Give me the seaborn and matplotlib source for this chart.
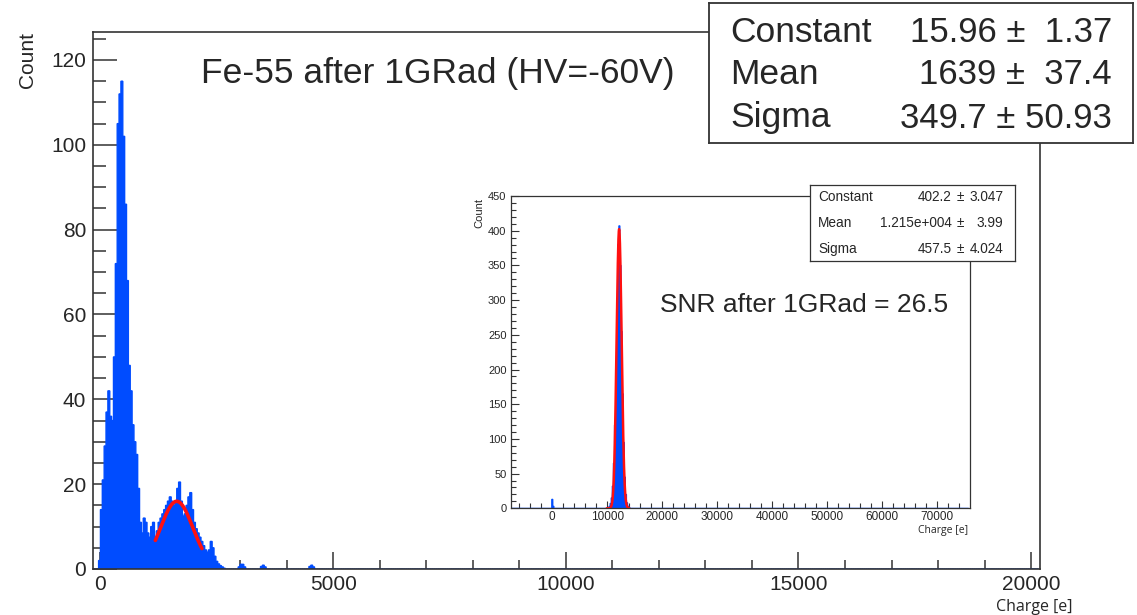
import numpy as np
import pandas as pd
import matplotlib
matplotlib.use("Agg")
import matplotlib.pyplot as plt
from matplotlib.ticker import MultipleLocator
import seaborn as sns

# ---------------- data ----------------
# main histogram: Fe-55 after 1 GRad, bin centres [e] (40 e bins) and counts
main_centers = [-20, 20, 60, 100, 140, 180, 220, 260, 300, 340, 380, 420, 460, 500,
                540, 580, 620, 660, 700, 740, 780, 820, 860, 900, 940, 980, 1020,
                1060, 1100, 1140, 1180, 1220, 1260, 1300, 1340, 1380, 1420, 1460,
                1500, 1540, 1580, 1620, 1660, 1700, 1740, 1780, 1820, 1860, 1900,
                1940, 1980, 2020, 2060, 2100, 2140, 2180, 2220, 2260, 2300, 2340,
                2380, 2420, 2460, 2500, 2540, 2580, 2620, 2660,
                2980, 3020, 3060, 3100, 3460, 3500, 3540, 4500, 4540, 4580]
main_counts = [2, 14, 21, 29, 37, 42, 36, 35, 50, 72, 105, 112, 115, 102,
               86, 68, 48, 42, 34, 30, 27, 19, 11, 8.5, 12, 11, 8.5,
               7.5, 10, 11, 7.5, 9, 11, 12, 13, 14, 15, 16,
               17, 16, 15, 16, 19, 20.5, 16, 12.5, 13, 15, 17,
               18, 14, 11, 9.5, 8.5, 7.5, 6.5, 5.5, 4.5, 4, 4.5,
               6.5, 5, 3, 1.8, 1.2, 0.8, 0.5, 0.2,
               0.5, 1.1, 1.1, 0.5, 0.6, 0.9, 0.5, 0.6, 0.9, 0.5]

# inset histogram: bin centres [e] (200 e bins) and counts
inset_centers = [0, 200, 10400, 10600, 10800, 11000, 11200, 11400, 11600, 11800,
                 12000, 12200, 12400, 12600, 12800, 13000, 13200, 13400, 13600,
                 13800, 14000]
inset_counts = [13, 3, 3, 7, 15, 32, 65, 120, 200, 300,
                380, 407, 350, 255, 165, 95, 45, 20, 8,
                3, 1]

# gaussian fit parameters (from the stat boxes) and fit ranges
main_fit_constant, main_fit_mean, main_fit_sigma = 15.96, 1639.0, 349.7
main_fit_range = (1180, 2180)
inset_fit_constant, inset_fit_mean, inset_fit_sigma = 402.2, 12150.0, 457.5
inset_fit_range = (9900, 14000)

# stat box texts
main_stat_names = ["Constant", "Mean", "Sigma"]
main_stat_values = ["15.96 \u00b1  1.37", "1639 \u00b1  37.4", "349.7 \u00b1 50.93"]
inset_stat_names = ["Constant", "Mean", "Sigma"]
inset_stat_values = ["402.2", "1.215e+004", "457.5"]
inset_stat_errors = ["3.047", "3.99", "4.024"]

title_text = "Fe-55 after 1GRad (HV=-60V)"
snr_text = "SNR after 1GRad = 26.5"
x_label = "Charge [e]"
y_label = "Count"

main_df = pd.DataFrame({"charge": main_centers, "count": main_counts})
inset_df = pd.DataFrame({"charge": inset_centers, "count": inset_counts})

# ---------------- style ----------------
sns.set_style("white")
plt.rcParams["font.family"] = ["Liberation Sans", "DejaVu Sans"]

BLUE = "#004cff"
RED = "#ff1010"
FRAME = "#333333"

W, H, DPI = 1137, 615, 100
fig = plt.figure(figsize=(W / DPI, H / DPI), dpi=DPI)
fig.patch.set_facecolor("white")


def px_rect(l, t, r, b):
    return [l / W, 1 - b / H, (r - l) / W, (b - t) / H]


def gauss(x, c, m, s):
    return c * np.exp(-0.5 * ((x - m) / s) ** 2)


# ---------------- main plot ----------------
ax = fig.add_axes(px_rect(93, 32, 1040, 569))
main_edges = [float(e) for e in np.arange(-160, 20161, 40)]
sns.histplot(data=main_df, x="charge", weights="count", bins=main_edges, element="bars",
             fill=True, color=BLUE, alpha=1.0, edgecolor=BLUE, linewidth=1.0,
             snap=False, ax=ax)
xf = np.linspace(*main_fit_range, 300)
sns.lineplot(x=xf, y=gauss(xf, main_fit_constant, main_fit_mean, main_fit_sigma),
             color=RED, linewidth=2.6, ax=ax, sort=False)
ax.set_xlim(-160, 20190)
ax.set_ylim(0, 126.6)
ax.set_xlabel("")
ax.set_ylabel("")
ax.xaxis.set_major_locator(MultipleLocator(5000))
ax.xaxis.set_minor_locator(MultipleLocator(1000))
ax.yaxis.set_major_locator(MultipleLocator(20))
ax.yaxis.set_minor_locator(MultipleLocator(5))
ax.tick_params(axis="y", which="major", direction="in", length=17, width=1.1,
               color=FRAME, labelsize=15, pad=5)
ax.tick_params(axis="y", which="minor", direction="in", length=9.5, width=1.1, color=FRAME)
ax.tick_params(axis="x", which="major", direction="in", length=12, width=1.1,
               color=FRAME, labelsize=15, pad=4)
ax.tick_params(axis="x", which="minor", direction="in", length=6.5, width=1.1, color=FRAME)
ax.tick_params(left=True, bottom=True, which="both")
for s in ax.spines.values():
    s.set_color(FRAME)
    s.set_linewidth(1.2)

fig.text(28 / W, 1 - 32 / H, y_label, rotation=90, ha="center", va="top", fontsize=15)
fig.text(1072 / W, 1 - 607 / H, x_label, ha="right", va="center", fontsize=11.5,
         family=["Open Sans", "DejaVu Sans"])
fig.text(437.5 / W, 1 - 73 / H, title_text, ha="center", va="center", fontsize=25.5)

# ---------------- inset plot ----------------
axi = fig.add_axes(px_rect(510.7, 196, 970, 508.3))
inset_edges = [float(e) for e in np.arange(-7500, 75701, 200)]
sns.histplot(data=inset_df, x="charge", weights="count", bins=inset_edges, element="bars",
             fill=True, color=BLUE, alpha=1.0, edgecolor=BLUE, linewidth=0.8,
             snap=False, ax=axi)
xi = np.linspace(*inset_fit_range, 300)
sns.lineplot(x=xi, y=gauss(xi, inset_fit_constant, inset_fit_mean, inset_fit_sigma),
             color=RED, linewidth=1.8, ax=axi, sort=False)
axi.set_xlim(-7560, 75940)
axi.set_ylim(0, 450)
axi.set_xlabel("")
axi.set_ylabel("")
axi.xaxis.set_major_locator(MultipleLocator(10000))
axi.xaxis.set_minor_locator(MultipleLocator(2000))
axi.yaxis.set_major_locator(MultipleLocator(50))
axi.yaxis.set_minor_locator(MultipleLocator(10))
axi.tick_params(axis="y", which="major", direction="in", length=6, width=0.8,
                color=FRAME, labelsize=8, pad=3)
axi.tick_params(axis="y", which="minor", direction="in", length=3.5, width=0.8, color=FRAME)
axi.tick_params(axis="x", which="major", direction="in", length=5, width=0.8,
                color=FRAME, labelsize=8.5, pad=2)
axi.tick_params(axis="x", which="minor", direction="in", length=3.5, width=0.8, color=FRAME)
axi.tick_params(left=True, bottom=True, which="both")
for s in axi.spines.values():
    s.set_color(FRAME)
    s.set_linewidth(0.9)

fig.text(479 / W, 1 - 198 / H, y_label, rotation=90, ha="center", va="top", fontsize=8)
fig.text(968 / W, 1 - 530 / H, x_label, ha="right", va="center", fontsize=7.5,
         family=["Open Sans", "DejaVu Sans"])
fig.text(804 / W, 1 - 305 / H, snr_text, ha="center", va="center", fontsize=19)


# ---------------- stat boxes ----------------
def box_axes(rect, lw):
    b = fig.add_axes(px_rect(*rect))
    b.set_xticks([])
    b.set_yticks([])
    b.set_facecolor("white")
    for s in b.spines.values():
        s.set_color(FRAME)
        s.set_linewidth(lw)
    return b


box_axes((709, 3, 1133, 143), 1.3)
for n, v, y in zip(main_stat_names, main_stat_values, (32, 75, 118)):
    fig.text(730 / W, 1 - y / H, n, ha="left", va="center", fontsize=25.5)
    fig.text(1112 / W, 1 - y / H, v, ha="right", va="center", fontsize=25)

box_axes((810, 185, 1015, 261), 0.9)
for n, v, e, y in zip(inset_stat_names, inset_stat_values, inset_stat_errors,
                      (197, 223, 249)):
    yy = 1 - y / H
    fig.text(818 / W, yy, n, ha="left", va="center", fontsize=9.8)
    fig.text(952 / W, yy, v, ha="right", va="center", fontsize=9.8)
    fig.text(960 / W, yy, "\u00b1", ha="center", va="center", fontsize=9.8)
    fig.text(1003 / W, yy, e, ha="right", va="center", fontsize=9.8)

fig.savefig("out.png", dpi=DPI, facecolor="white")
